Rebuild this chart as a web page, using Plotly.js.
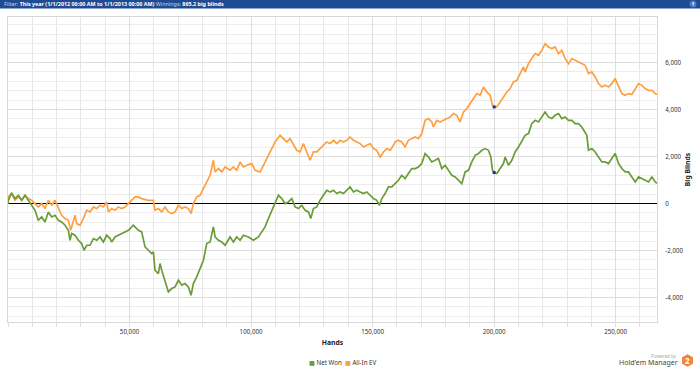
<!DOCTYPE html>
<html>
<head>
<meta charset="utf-8">
<script src="https://cdn.plot.ly/plotly-3.0.1.min.js"></script>
<style>
  html, body { margin: 0; padding: 0; background: #ffffff; }
  #chart { width: 700px; height: 369px; }
</style>
</head>
<body>
<div id="chart"></div>
<script>
// ---- data ----
const netWonHands = [0,140,1510,2880,4250,5630,7000,8370,9740,11110,12480,13850,15230,16600,17970,19340,20710,22090,23460,24830,25510,26200,27570,28940,30310,31280,32370,33740,35120,36490,37860,39230,40600,41970,42660,44030,45400,46770,48140,49520,51570,
  53630,55000,56380,57750,59120,59810,60490,61860,62550,63240,64610,65980,67350,68720,70100,71470,72840,74210,75310,76270,77640,79010,80390,81760,83130,84500,85190,86560,87930,89300,91360,92730,94110,95480,96850,98910,100970,103020,105080,
  105760,107130,108500,109880,111250,112620,113990,115360,116740,118110,119480,120850,122220,123600,124560,125650,127030,128400,129770,131140,132510,133890,135260,136630,138000,139370,140750,142120,143490,144860,146230,147610,148980,150350,151720,152820,153780,155150,156520,157890,
  159250,160620,161990,163370,164740,166110,167480,168850,170230,171600,172970,174340,175710,177090,178460,179830,181200,182570,183950,185320,186690,188060,189430,190810,192180,193550,194920,196290,197670,198630,199310,200000,201100,202470,203840,204530,205900,207270,208640,210010,211390,
  212750,214120,215490,216870,218240,219610,220980,222350,223730,225100,226470,227840,229210,230590,231960,233330,234700,236070,237450,238130,238820,240190,241560,242930,244310,245680,247050,248420,249790,251170,252540,253910,255280,256650,258030,259400,260770,262140,263510,264890,266260,267000];
const netWonBB = [0,140,452,211,353,140,353,140,-72,-285,-711,-569,-782,-356,-569,-498,-711,-782,-923,-1136,-1562,-1277,-1349,-1562,-1702,-1987,-1774,-1774,-1489,-1562,-1420,-1633,-1349,-1489,-1633,-1420,-1349,-1277,-1207,-1136,-923,
  -1136,-1207,-1845,-1987,-2128,-2058,-2838,-2979,-2553,-2838,-3264,-3760,-3617,-3547,-3264,-3476,-3404,-3547,-3902,-3404,-3122,-2766,-2413,-1702,-1633,-994,-1420,-1562,-1633,-1774,-1420,-1633,-1420,-1562,-1349,-1420,-1562,-1420,-1136,
  -994,-638,-285,0,353,213,0,70,213,-143,-213,-72,-285,-356,-638,-213,-143,140,353,566,495,566,426,495,426,566,708,495,566,495,426,495,353,213,140,-72,213,426,708,708,
  851,993,1206,1064,1277,1489,1489,1559,1702,2128,1984,1771,1843,1915,1489,1630,1417,1206,1133,993,851,1346,1417,1771,2055,2128,2268,2340,2268,1984,1417,1319,1277,1489,1702,1984,1630,1843,2197,2410,2694,
  2906,2979,3404,3544,3473,3686,3899,3686,3617,3757,3830,3617,3686,3544,3544,3404,3404,3261,3048,2906,2268,2340,2197,1984,1771,1771,1702,1915,2128,1702,1489,1346,1346,1133,920,1133,1064,993,920,1133,920,865];

const allInHands = [0,140,1510,2880,4250,5630,7000,8370,9740,11110,12480,13850,15230,16600,17970,19340,20710,22090,23460,24830,25790,26880,27570,28260,29630,31000,32370,33740,35120,36490,37860,39230,40600,41290,42660,44030,45400,46770,48140,49520,50890,
  52260,53630,55000,57750,59810,60490,61860,63240,64610,65980,67350,68720,70100,71470,72840,74210,75310,76270,77640,79010,80390,81760,83130,84500,85190,86560,87930,89300,91360,92730,94110,95480,96850,98220,100280,101650,103710,105080,
  105760,107130,108500,109880,111930,113310,114680,116050,117420,118790,120170,121540,122910,124280,125650,127030,128400,129770,131140,132510,133890,135260,136630,138000,139370,140750,142120,143490,144860,146230,147610,148980,150350,151720,153090,154470,155840,157210,158580,
  159250,160620,161990,163370,164740,166110,167480,168850,170230,171600,172970,174340,175030,176400,177770,179140,180520,181890,183260,184630,186000,187380,188750,190120,191490,192860,194240,195610,196980,198350,199310,200000,201100,202470,203840,205210,206580,207960,209330,210700,212070,
  212750,214120,215490,216870,218240,219610,220980,222350,223730,225100,226470,227840,229210,230590,231960,233330,234700,236070,237450,238820,240190,241560,242930,244310,245680,247050,248420,249790,251170,252540,253910,255280,256650,258030,259400,260770,262140,263510,264890,266260,267000];
const allInBB = [0,282,426,140,282,140,353,211,140,0,-143,0,-213,140,-72,140,-143,-498,-638,-711,-1136,-782,-498,-851,-923,-638,-285,-356,-143,-213,-72,-143,70,-356,-213,-285,-143,-213,-143,0,140,
  282,282,211,140,140,-285,-213,-356,-143,-356,-426,-356,-72,-213,-143,-213,-426,0,282,353,638,920,1204,1842,1346,1489,1346,1559,1417,1559,1417,1771,1559,1630,1702,1417,1346,1630,
  1771,1984,2340,2622,2906,2766,2622,2766,2481,2268,2197,2553,2197,1842,2197,2197,2340,2481,2622,2553,2693,2553,2693,2622,2693,2835,2693,2622,2553,2410,2481,2553,2340,2268,1984,2197,2340,2268,2481,
  2622,2693,2622,2410,2693,2766,2835,2766,2979,3544,3617,3473,3261,3544,3473,3544,3617,3686,3830,3757,3473,3899,4042,4255,4468,4681,4608,4963,4750,4608,4183,4112,4112,4324,4537,4750,4893,5175,5246,5532,5814,
  5601,5957,6170,6383,6311,6523,6808,6665,6595,6665,6383,6523,6170,5957,6170,6098,6026,5957,5885,5532,5601,5388,5106,4963,5034,4963,5106,5319,4963,4681,4608,4681,4640,4893,5106,5034,4893,4821,4821,4681,4640];

const markerHands = [200000, 200000];
const markerBB = [1319, 4112];

const seriesNames = ["Net Won", "All-In EV"];
const xTickVals = [50000, 100000, 150000, 200000, 250000];
const xTickText = ["50,000", "100,000", "150,000", "200,000", "250,000"];
const yTickVals = [-4000, -2000, 0, 2000, 4000, 6000];
const yTickText = ["-4,000", "-2,000", "0", "2,000", "4,000", "6,000"];
const filterText = "This year (1/1/2012 00:00 AM to 1/1/2013 00:00 AM)";
const winningsText = "865.2 big blinds";

// ---- styling / layout ----
const GREEN = "#6b9c38";
const ORANGE = "#ffa040";
const W = 700, H = 369;
const M = { l: 8, r: 43, t: 17, b: 47 };
const PW = W - M.l - M.r, PH = H - M.t - M.b;
const px = x => (x - M.l) / PW;        // pixel -> paper x
const py = y => (H - M.b - y) / PH;    // pixel -> paper y

const FONT = "Noto Sans, Open Sans, DejaVu Sans, sans-serif";

const traces = [
  { type: "scatter", mode: "lines", name: seriesNames[1], x: allInHands, y: allInBB,
    line: { color: ORANGE, width: 1.7 }, showlegend: false, hoverinfo: "skip" },
  { type: "scatter", mode: "lines", name: seriesNames[0], x: netWonHands, y: netWonBB,
    line: { color: GREEN, width: 1.7 }, showlegend: false, hoverinfo: "skip" },
  { type: "scatter", mode: "markers", x: markerHands, y: markerBB,
    marker: { color: "#2430a0", size: 3, symbol: "square" }, showlegend: false, hoverinfo: "skip" }
];

// hexagon logo
function hexPath(cx, cy, r) {
  let d = "";
  for (let i = 0; i < 6; i++) {
    const a = Math.PI / 180 * (90 - 60 * i);
    const X = px(cx + r * Math.cos(a));
    const Y = py(cy - r * Math.sin(a));
    d += (i === 0 ? "M " : " L ") + X.toFixed(5) + "," + Y.toFixed(5);
  }
  return d + " Z";
}

const layout = {
  width: W, height: H,
  margin: M,
  paper_bgcolor: "#ffffff",
  plot_bgcolor: "#ffffff",
  font: { family: FONT, size: 6.2, color: "#333333" },
  showlegend: false,
  xaxis: {
    range: [0, 267000],
    tickmode: "array", tickvals: xTickVals, ticktext: xTickText,
    showgrid: true, gridcolor: "#dedede", gridwidth: 1,
    minor: { dtick: 10000, tick0: 0, showgrid: true, gridcolor: "#e8e8e8", ticks: "outside", ticklen: 4, tickcolor: "#e0e0e0" },
    ticks: "outside", ticklen: 4, tickcolor: "#e0e0e0",
    zeroline: false,
    showline: true, linecolor: "#d8d8d8", linewidth: 1, mirror: true,
    tickfont: { size: 6.2, color: "#333333", family: FONT },
    title: { text: "<b>Hands</b>", font: { size: 6.8, color: "#222222", family: FONT }, standoff: 4 },
    fixedrange: true
  },
  yaxis: {
    range: [-5040, 7940],
    side: "right",
    tickmode: "array", tickvals: yTickVals, ticktext: yTickText,
    showgrid: true, gridcolor: "#dcdcdc", gridwidth: 1,
    minor: { dtick: 400, tick0: 0, showgrid: true, gridcolor: "#ececec" },
    ticks: "", ticklabelstandoff: 6,
    zeroline: true, zerolinecolor: "#000000", zerolinewidth: 1.6,
    showline: true, linecolor: "#d8d8d8", linewidth: 1, mirror: true,
    tickfont: { size: 6.2, color: "#333333", family: FONT },
    title: { text: "<b>Big Blinds</b>", font: { size: 6.8, color: "#222222", family: FONT }, standoff: 2 },
    fixedrange: true
  },
  shapes: [
    { type: "rect", xref: "paper", yref: "paper", x0: px(0), x1: px(W), y0: py(8.5), y1: py(0),
      fillcolor: "#1f4b93", line: { width: 0 }, layer: "above" },
    { type: "circle", xref: "paper", yref: "paper", x0: px(689.5), x1: px(696.5), y0: py(7.5), y1: py(0.5),
      fillcolor: "#4d78b8", line: { width: 0 }, layer: "above" },
    { type: "path", xref: "paper", yref: "paper", path: hexPath(687.5, 360.5, 6.3),
      fillcolor: "#f0843a", line: { width: 0 }, layer: "above" }
  ],
  annotations: [
    { xref: "paper", yref: "paper", x: px(1.5), y: py(4.3), xanchor: "left", yanchor: "middle", showarrow: false,
      text: "<span style='color:#c6d3e8'>Filter:</span> <b>" + filterText + "</b> <span style='color:#c6d3e8'>Winnings:</span> <b>" + winningsText + "</b>",
      font: { size: 5.4, color: "#ffffff", family: FONT } },
    { xref: "paper", yref: "paper", x: px(693), y: py(4.2), xanchor: "center", yanchor: "middle", showarrow: false,
      text: "<b>↑</b>", font: { size: 5, color: "#ffffff", family: FONT } },
    // legend
    { xref: "paper", yref: "paper", x: px(306.5), y: py(362), xanchor: "left", yanchor: "middle", showarrow: false,
      text: "<span style='color:" + GREEN + "'>■</span> " + seriesNames[0] + "  <span style='color:" + ORANGE + "'>■</span> " + seriesNames[1],
      font: { size: 6.2, color: "#333333", family: FONT } },
    // branding
    { xref: "paper", yref: "paper", x: px(679), y: py(356), xanchor: "right", yanchor: "middle", showarrow: false,
      text: "Powered by", font: { size: 4.6, color: "#aaaaaa", family: FONT } },
    { xref: "paper", yref: "paper", x: px(679.5), y: py(362.3), xanchor: "right", yanchor: "middle", showarrow: false,
      text: "Hold'em Manager", font: { size: 7, color: "#444444", family: FONT } },
    { xref: "paper", yref: "paper", x: px(687.5), y: py(360.8), xanchor: "center", yanchor: "middle", showarrow: false,
      text: "<b>2</b>", font: { size: 8, color: "#ffffff", family: FONT } }
  ]
};

Plotly.newPlot("chart", traces, layout, { staticPlot: true, displayModeBar: false });
</script>
</body>
</html>
